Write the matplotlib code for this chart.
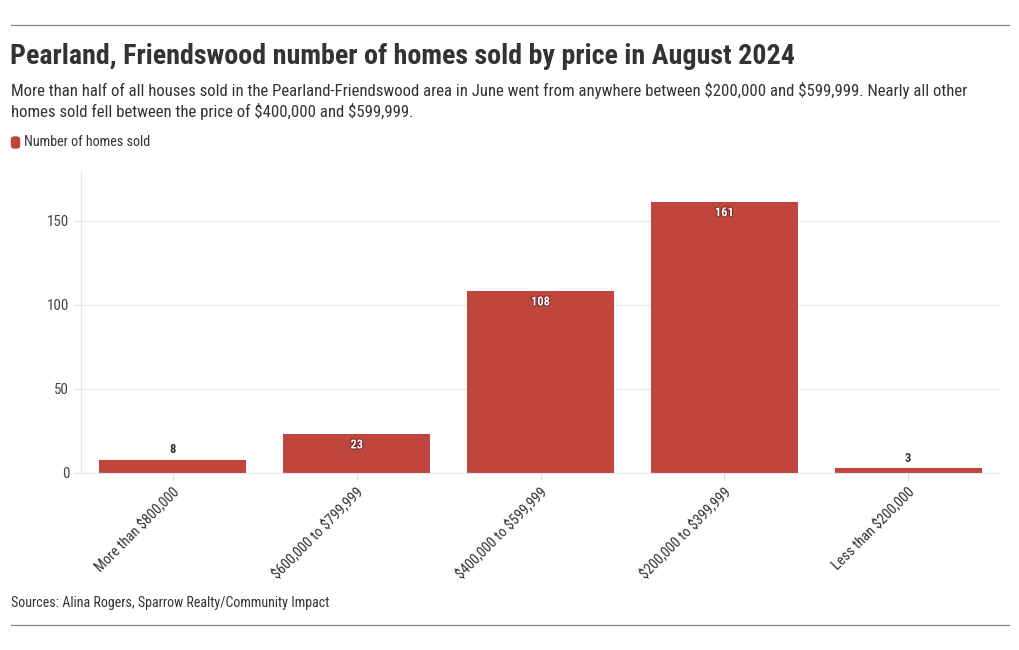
import matplotlib
matplotlib.use("Agg")
import matplotlib.pyplot as plt
import matplotlib.patheffects as pe
from matplotlib.patches import FancyBboxPatch
from matplotlib.lines import Line2D

plt.rcParams['font.family'] = ['Roboto Condensed', 'Roboto', 'DejaVu Sans']
plt.rcParams['text.parse_math'] = False

categories = ["More than $800,000", "$600,000 to $799,999", "$400,000 to $599,999",
              "$200,000 to $399,999", "Less than $200,000"]
homes_sold = [8, 23, 108, 161, 3]
yticks = [0, 50, 100, 150]

title = "Pearland, Friendswood number of homes sold by price in August 2024"
subtitle = ("More than half of all houses sold in the Pearland-Friendswood area in June went from anywhere between $200,000 and $599,999. Nearly all other\n"
            "homes sold fell between the price of $400,000 and $599,999.")
source = "Sources: Alina Rogers, Sparrow Realty/Community Impact"

red = "#c0463d"
W, H = 1020, 650
fig = plt.figure(figsize=(W / 100, H / 100), dpi=100)
ax = fig.add_axes([81 / W, 1 - 473 / H, (1000 - 81) / W, (473 - 170) / H])

x = range(len(categories))
ax.bar(x, homes_sold, width=0.8, color=red, zorder=2)
ax.set_xlim(-0.5, len(categories) - 0.5)
ax.set_ylim(0, 180)
ax.set_yticks(yticks)
ax.set_xticks(list(x))
ax.set_xticklabels(categories, rotation=45, ha="right", rotation_mode="anchor",
                   fontsize=10.4, color="#333333")
ax.tick_params(axis="y", labelsize=10.8, colors="#444444", length=5, color="#dddddd")
ax.tick_params(axis="x", length=5, color="#dddddd", pad=4)
ax.grid(axis="y", color="#ebebeb", linewidth=0.8, zorder=0)
for s in ["top", "right"]:
    ax.spines[s].set_visible(False)
ax.spines["left"].set_color("#e6e6e6")
ax.spines["bottom"].set_color("#e6e6e6")

for i, v in enumerate(homes_sold):
    if v > 15:
        ax.text(i, v - 2.5, str(v), ha="center", va="top", fontsize=9, fontweight="bold",
                color="white", path_effects=[pe.withStroke(linewidth=1.5, foreground="#7a2a25")])
    else:
        ax.text(i, v + 2, str(v), ha="center", va="bottom", fontsize=9, fontweight="bold",
                color="#333333")

# rules
fig.add_artist(Line2D([11 / W, 1009 / W], [1 - 25 / H, 1 - 25 / H], color="#888888", linewidth=0.9))
fig.add_artist(Line2D([11 / W, 1009 / W], [1 - 625 / H, 1 - 625 / H], color="#888888", linewidth=0.9))

fig.text(10 / W, 1 - 56 / H, title, fontsize=20.2, fontweight="bold", color="#333333", va="center")
fig.text(11 / W, 1 - 101 / H, subtitle, fontsize=12.1, color="#333333", va="center", linespacing=1.27)

fig.add_artist(FancyBboxPatch((11.5 / W, 1 - 148 / H), 8 / W, 11 / H,
                              boxstyle="round,pad=0,rounding_size=0.003",
                              transform=fig.transFigure, color=red))
fig.text(24 / W, 1 - 142 / H, "Number of homes sold", fontsize=10.2, color="#333333", va="center")

fig.text(11 / W, 1 - 603 / H, source, fontsize=10.1, color="#333333", va="center")

fig.savefig("out.png", dpi=100)
